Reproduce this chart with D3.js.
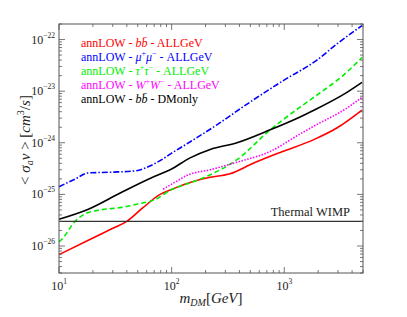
<!DOCTYPE html>
<html>
<head>
<meta charset="utf-8">
<script src="https://cdn.jsdelivr.net/npm/d3@7"></script>
<style>
  body { margin: 0; background: #fff; }
  text { font-family: "Liberation Serif", "DejaVu Serif", serif; }
</style>
</head>
<body>
<svg width="407" height="317"></svg>
<script>
// data (mass in GeV, <sigma v> in cm^3/s)
var redMass = [10, 20, 30, 40, 55, 79, 101, 146, 220, 330, 530, 920, 1830, 2950, 4900];
var redVal = [6.8e-27, 1.43e-26, 2.2e-26, 3.0e-26, 5.4e-26, 1.0e-25, 1.26e-25, 1.7e-25, 2.14e-25, 2.5e-25, 4.0e-25, 6.5e-25, 1.15e-24, 1.95e-24, 4.3e-24];

var blueMass = [10, 14, 18, 30, 47, 65, 79, 100, 132, 250, 500, 980, 1950, 2950, 4900];
var blueVal = [1.41e-25, 2.0e-25, 2.6e-25, 2.7e-25, 2.85e-25, 3.6e-25, 4.5e-25, 6.3e-25, 9.1e-25, 2.2e-24, 6.2e-24, 1.6e-23, 4.0e-23, 8.3e-23, 1.86e-22];

var greenMass = [10, 10.6, 13.9, 17, 22, 36, 50, 71, 101, 132, 220, 380, 750, 1380, 1830, 3600, 4900];
var greenVal = [1.2e-26, 1.35e-26, 3.0e-26, 4.2e-26, 4.9e-26, 5.6e-26, 6.5e-26, 7.9e-26, 1.26e-25, 1.55e-25, 2.4e-25, 4.7e-25, 1.78e-24, 4.9e-24, 7.6e-24, 2.34e-23, 4.5e-23];

var magMass = [84, 110, 137, 220, 380, 750, 1380, 1830, 3600, 4900];
var magVal = [1.26e-25, 1.78e-25, 2.34e-25, 3.0e-25, 4.2e-25, 6.8e-25, 1.48e-24, 2.1e-24, 4.7e-24, 7.6e-24];

var blackMass = [10, 18, 36, 71, 97, 146, 220, 380, 750, 1380, 1830, 3600, 4900];
var blackVal = [3.3e-26, 5.1e-26, 1.1e-25, 2.24e-25, 3.0e-25, 5.1e-25, 7.4e-25, 1.0e-24, 1.78e-24, 3.16e-24, 4.27e-24, 9.5e-24, 1.48e-23];

var thermal = 3e-26;
var xDecades = [1, 2, 3];
var yDecades = [-22, -23, -24, -25, -26];

var series = [
  { name: "red", mass: redMass, val: redVal, color: "#ff0000", dash: null },
  { name: "blue", mass: blueMass, val: blueVal, color: "#0000ff", dash: "6,2,1.5,2" },
  { name: "green", mass: greenMass, val: greenVal, color: "#00ee00", dash: "5,3" },
  { name: "magenta", mass: magMass, val: magVal, color: "#ff00ff", dash: "1.5,1.5" },
  { name: "black", mass: blackMass, val: blackVal, color: "#000000", dash: null }
];

var svg = d3.select("svg");
var mLeft = 59, mRight = 363, mTop = 24, mBottom = 273;

var x = d3.scaleLog().domain([10, 5000]).range([mLeft, mRight]);
var y = d3.scaleLog().domain([3e-27, 2e-22]).range([mBottom, mTop]);

// curves
var line = d3.line()
  .x(function (d) { return x(d[0]); })
  .y(function (d) { return y(d[1]); })
  .curve(d3.curveMonotoneX);

svg.append("g").selectAll("path")
  .data(series)
  .enter()
  .append("path")
  .attr("d", function (s) { return line(d3.zip(s.mass, s.val)); })
  .attr("fill", "none")
  .attr("stroke", function (s) { return s.color; })
  .attr("stroke-width", 1.6)
  .attr("stroke-dasharray", function (s) { return s.dash; });

// thermal line
svg.append("line")
  .attr("x1", x(10)).attr("x2", x(5000))
  .attr("y1", y(thermal)).attr("y2", y(thermal))
  .attr("stroke", "#333").attr("stroke-width", 1.1);
svg.append("text")
  .attr("x", 350).attr("y", y(thermal) - 5)
  .attr("text-anchor", "end")
  .attr("font-size", 12.5)
  .attr("fill", "#222")
  .text("Thermal WIMP");

// frame
svg.append("rect")
  .attr("x", mLeft).attr("y", mTop)
  .attr("width", mRight - mLeft).attr("height", mBottom - mTop)
  .attr("fill", "none").attr("stroke", "#555").attr("stroke-width", 1);

// ticks (inward, all four sides)
var xTicks = x.ticks().filter(function (v) { return v >= 10 && v <= 5000; });
var yTicks = y.ticks().filter(function (v) { return v >= 3e-27 && v <= 2e-22; });
function isMajor(v) { var l = Math.log10(v); return Math.abs(l - Math.round(l)) < 1e-6; }

var tg = svg.append("g").attr("stroke", "#555").attr("stroke-width", 0.8);
xTicks.forEach(function (v) {
  var len = isMajor(v) ? 6 : 3;
  tg.append("line").attr("x1", x(v)).attr("x2", x(v)).attr("y1", mBottom).attr("y2", mBottom - len);
  tg.append("line").attr("x1", x(v)).attr("x2", x(v)).attr("y1", mTop).attr("y2", mTop + len);
});
yTicks.forEach(function (v) {
  var len = isMajor(v) ? 6 : 3;
  tg.append("line").attr("y1", y(v)).attr("y2", y(v)).attr("x1", mLeft).attr("x2", mLeft + len);
  tg.append("line").attr("y1", y(v)).attr("y2", y(v)).attr("x1", mRight).attr("x2", mRight - len);
});

// tick labels
xDecades.forEach(function (e) {
  var t = svg.append("text")
    .attr("x", x(Math.pow(10, e)))
    .attr("y", 290)
    .attr("text-anchor", "middle")
    .attr("font-size", 12)
    .attr("fill", "#222");
  t.append("tspan").text("10");
  t.append("tspan").attr("dy", -6).attr("font-size", 7.5).text(e);
});
yDecades.forEach(function (e) {
  var t = svg.append("text")
    .attr("x", 55)
    .attr("y", y(Math.pow(10, e)) + 4)
    .attr("text-anchor", "end")
    .attr("font-size", 12)
    .attr("fill", "#222");
  t.append("tspan").text("10");
  t.append("tspan").attr("dy", -6).attr("font-size", 7.5).text("\u2212" + (-e));
});

// axis labels
var xl = svg.append("text")
  .attr("x", 211).attr("y", 303)
  .attr("text-anchor", "middle")
  .attr("font-size", 15)
  .attr("fill", "#222");
xl.append("tspan").attr("font-style", "italic").text("m");
xl.append("tspan").attr("font-style", "italic").attr("font-size", 10).attr("dy", 3).text("DM");
xl.append("tspan").attr("dy", -3).text("[");
xl.append("tspan").attr("font-style", "italic").text("GeV");
xl.append("tspan").text("]");

var yl = svg.append("text")
  .attr("transform", "translate(30,140) rotate(-90)")
  .attr("text-anchor", "middle")
  .attr("font-size", 15)
  .attr("fill", "#222");
yl.append("tspan").text("< ");
yl.append("tspan").attr("font-style", "italic").text("\u03c3");
yl.append("tspan").attr("font-style", "italic").attr("font-size", 10).attr("dy", 3).text("a");
yl.append("tspan").attr("font-style", "italic").attr("dy", -3).text("v");
yl.append("tspan").text(" > [");
yl.append("tspan").attr("font-style", "italic").text("cm");
yl.append("tspan").attr("font-size", 10).attr("dy", -6).text("3");
yl.append("tspan").attr("dy", 6).text("/");
yl.append("tspan").attr("font-style", "italic").text("s");
yl.append("tspan").text("]");

// legend
var legendRows = [
  { color: "#ff0000", parts: [["annLOW - ", 0], ["b", 1], ["b\u0304", 1], [" - ALLGeV", 0]] },
  { color: "#0000ff", parts: [["annLOW - ", 0], ["\u03bc", 1], ["+", 2], ["\u03bc", 1], ["\u2212", 2], [" - ALLGeV", 0]] },
  { color: "#00ee00", parts: [["annLOW - ", 0], ["\u03c4", 1], ["+", 2], ["\u03c4", 1], ["\u2212", 2], [" - ALLGeV", 0]] },
  { color: "#ff00ff", parts: [["annLOW - ", 0], ["W", 1], ["+", 2], ["W", 1], ["\u2212", 2], [" - ALLGeV", 0]] },
  { color: "#000000", parts: [["annLOW - ", 0], ["b", 1], ["b\u0304", 1], [" - DMonly", 0]] }
];
var legendY = [47, 61, 75, 89, 103];

legendRows.forEach(function (row, i) {
  var t = svg.append("text")
    .attr("x", 81).attr("y", legendY[i])
    .attr("font-size", 12)
    .attr("fill", row.color);
  var raised = false;
  row.parts.forEach(function (p) {
    var ts = t.append("tspan").text(p[0]);
    if (p[1] === 2) {
      ts.attr("font-size", 8).attr("dy", -5);
      raised = true;
    } else {
      if (raised) { ts.attr("dy", 5); raised = false; }
      if (p[1] === 1) ts.attr("font-style", "italic");
    }
  });
});
</script>
</body>
</html>
